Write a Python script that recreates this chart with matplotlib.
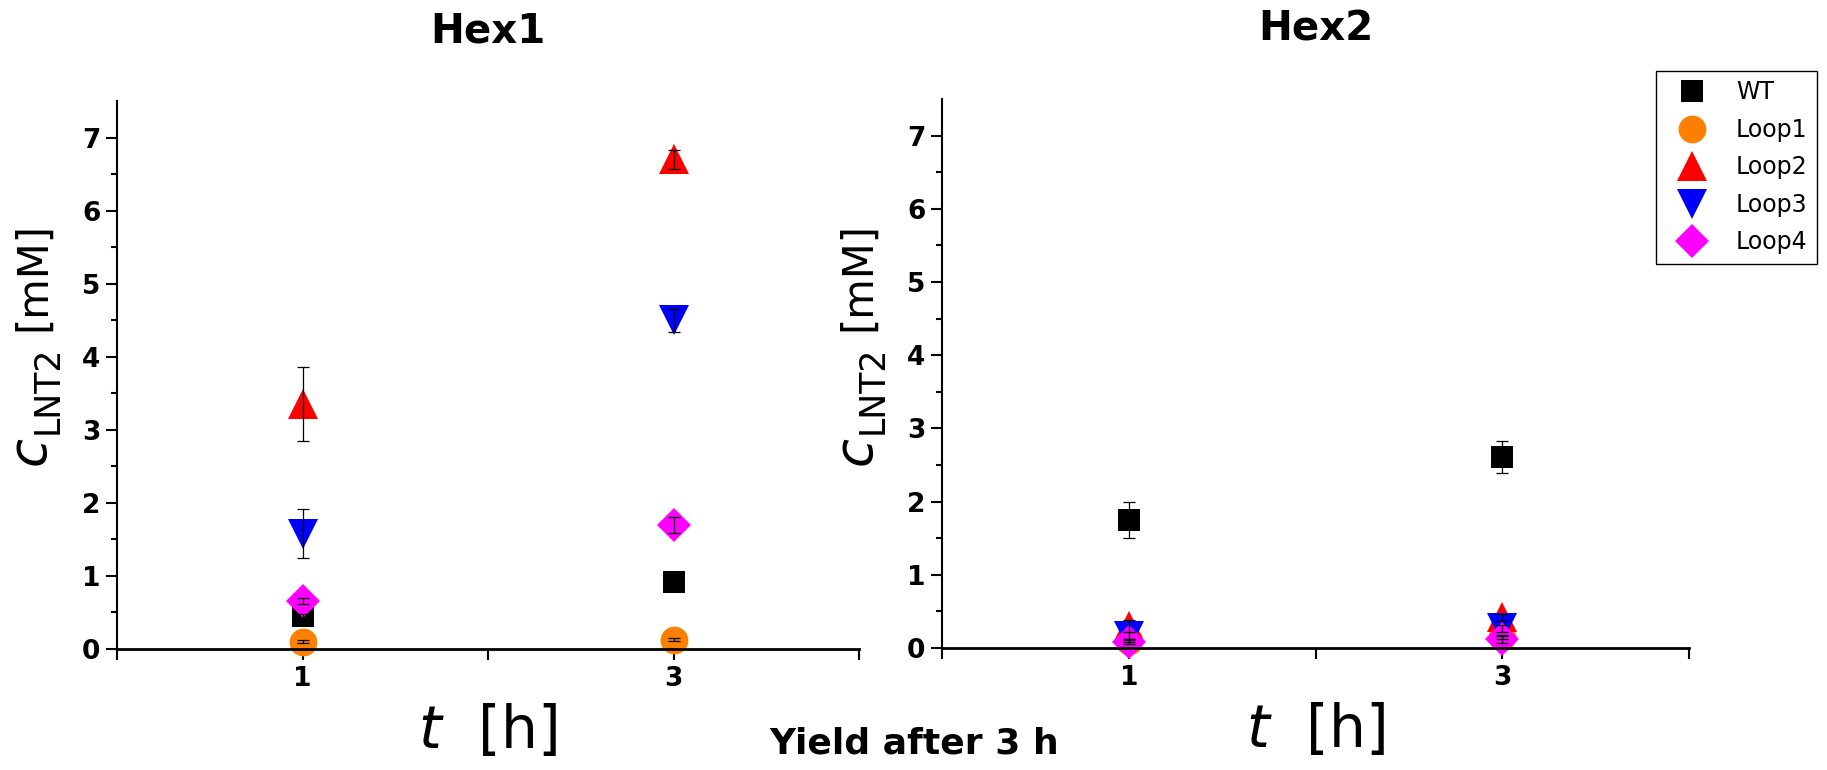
import numpy as np
import matplotlib
matplotlib.use("Agg")
import matplotlib.pyplot as plt

# sampling times [h]
times = [1, 3]
series = ["WT", "Loop1", "Loop2", "Loop3", "Loop4"]

# Hex1 concentrations [mM] and errors
hex1_vals = {
    "WT":    [0.45, 0.92],
    "Loop1": [0.10, 0.13],
    "Loop2": [3.35, 6.70],
    "Loop3": [1.58, 4.50],
    "Loop4": [0.66, 1.70],
}
hex1_err = {
    "WT":    [0.03, 0.04],
    "Loop1": [0.02, 0.02],
    "Loop2": [0.51, 0.13],
    "Loop3": [0.34, 0.16],
    "Loop4": [0.04, 0.11],
}

# Hex2 concentrations [mM] and errors
hex2_vals = {
    "WT":    [1.75, 2.61],
    "Loop1": [0.10, 0.15],
    "Loop2": [0.30, 0.42],
    "Loop3": [0.17, 0.27],
    "Loop4": [0.08, 0.12],
}
hex2_err = {
    "WT":    [0.245, 0.215],
    "Loop1": [0.02, 0.03],
    "Loop2": [0.08, 0.05],
    "Loop3": [0.05, 0.05],
    "Loop4": [0.03, 0.05],
}

style = {
    "WT":    dict(marker="s", color="black", ms=16.5),
    "Loop1": dict(marker="o", color="#FF8000", ms=20),
    "Loop2": dict(marker="^", color="#FF0000", ms=22),
    "Loop3": dict(marker="v", color="#0000FF", ms=22),
    "Loop4": dict(marker="D", color="#FF00FF", ms=17),
}

W, H = 1827, 770
fig = plt.figure(figsize=(W / 100, H / 100), dpi=100)
ax1 = fig.add_axes([117 / W, 121 / H, 742 / W, 548 / H])
ax2 = fig.add_axes([942 / W, 122 / H, 747 / W, 549 / H])


def ylabel_parts(xpix):
    # c_LNT2 [mM], built from pieces so the big italic c fits the original
    kw = dict(rotation=90, rotation_mode="anchor", ha="left", va="baseline")
    fig.text((xpix - 72) / W, (H - 465) / H, "c", fontsize=38,
             style="italic", **kw)
    fig.text((xpix - 59) / W, (H - 434) / H, "LNT2", fontsize=25, **kw)
    fig.text((xpix - 72) / W, (H - 331) / H, "[mM]", fontsize=30, **kw)


def draw(ax, vals, errs, title):
    for name in series:
        st = style[name]
        ax.plot(times, vals[name], linestyle="none", marker=st["marker"],
                color=st["color"], markersize=st["ms"], markeredgewidth=0,
                label=name, clip_on=False, zorder=2)
    for name in series:
        ax.errorbar(times, vals[name], yerr=errs[name], fmt="none",
                    ecolor="black", elinewidth=0.9, capsize=4.5,
                    capthick=0.9, zorder=3, clip_on=False)
    ax.set_xlim(0, 4)
    ax.set_ylim(0, 7.5)
    ax.set_xticks([0, 1, 2, 3, 4])
    ax.set_xticklabels(["", "1", "", "3", ""])
    ax.set_yticks(np.arange(0, 8, 1))
    ax.set_yticks(np.arange(0.5, 7.5, 1), minor=True)
    ax.tick_params(axis="both", which="major", direction="out", length=8,
                   width=1.5, labelsize=19, pad=4)
    ax.tick_params(axis="y", which="minor", direction="out", length=4, width=1.5)
    for lab in ax.get_xticklabels() + ax.get_yticklabels():
        lab.set_fontweight("bold")
    ax.spines["top"].set_visible(False)
    ax.spines["right"].set_visible(False)
    ax.spines["left"].set_linewidth(1.5)
    ax.spines["bottom"].set_linewidth(2)
    ax.set_xlabel(r"$\mathit{t}$  [h]", fontsize=42, labelpad=8)
    ax.set_title(title, fontsize=29, fontweight="bold", pad=42)


draw(ax1, hex1_vals, hex1_err, "Hex1")
draw(ax2, hex2_vals, hex2_err, "Hex2")
ylabel_parts(117)
ylabel_parts(942)

leg = ax2.legend(loc="upper right", bbox_to_anchor=(1817 / W, 1 - 71 / H),
                 bbox_transform=fig.transFigure, borderaxespad=0,
                 fontsize=17, frameon=True, fancybox=False, framealpha=1,
                 edgecolor="black", labelspacing=0.57, handlelength=2.3,
                 handletextpad=0.7, borderpad=0.4, numpoints=1)
leg.get_frame().set_linewidth(1.0)

fig.text(914 / W, 1 - 744 / H, "Yield after 3 h", fontsize=26,
         fontweight="bold", ha="center", va="center")

fig.savefig("out.png", dpi=100)
